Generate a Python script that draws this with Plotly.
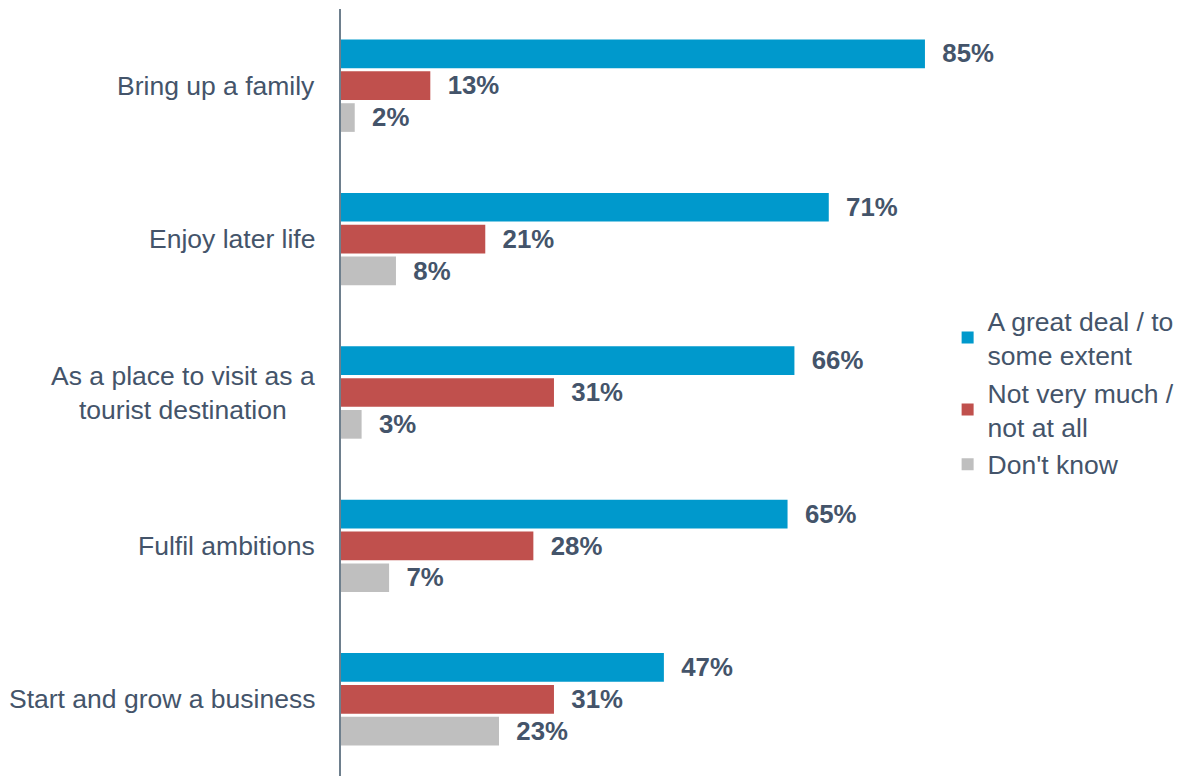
import plotly.graph_objects as go

categories = [
    "Bring up a family",
    "Enjoy later life",
    "As a place to visit as a<br>tourist destination",
    "Fulfil ambitions",
    "Start and grow a business",
]
great_deal = [85, 71, 66, 65, 47]
not_much = [13, 21, 31, 28, 31]
dont_know = [2, 8, 3, 7, 23]

series_names = ["A great deal / to<br>some extent", "Not very much /<br>not at all", "Don't know"]
series_colors = ["#0099CC", "#C0504D", "#BFBFBF"]
text_color = "#44546A"
font_family = "Liberation Sans, Arial, sans-serif"

fig = go.Figure()
for name, vals, col in zip(series_names, [great_deal, not_much, dont_know], series_colors):
    fig.add_trace(go.Bar(
        y=categories,
        x=vals,
        orientation="h",
        name=name,
        marker=dict(color=col, line=dict(width=0)),
        text=[f"\u00a0\u00a0{v}%" for v in vals],
        textposition="outside",
        textfont=dict(size=27, color=text_color, family=font_family, weight="bold"),
        cliponaxis=False,
    ))

# category labels, centred lines
for cat in categories:
    fig.add_annotation(
        x=-0.035, xref="paper", xanchor="right",
        y=cat, yref="y", yanchor="middle",
        text=cat, align="center", showarrow=False,
        font=dict(size=26.5, color=text_color, family=font_family),
    )

fig.update_layout(
    width=1187,
    height=776,
    barmode="group",
    bargap=0.377,
    bargroupgap=0.1,
    plot_bgcolor="white",
    paper_bgcolor="white",
    margin=dict(l=333, r=167, t=1, b=8),
    font=dict(family=font_family, color=text_color, size=26),
    showlegend=True,
    legend=dict(
        x=0.883, y=0.625, xanchor="left", yanchor="top",
        font=dict(size=26.5, color=text_color, family=font_family),
        traceorder="normal",
        itemwidth=30,
        tracegroupgap=4,
    ),
    xaxis=dict(range=[0, 100], showgrid=False, zeroline=False, showticklabels=False, showline=False),
    yaxis=dict(
        autorange="reversed",
        showticklabels=False,
        showgrid=False,
        zeroline=False,
        showline=True,
        linecolor="#6E7F8D",
        linewidth=2,
    ),
)

fig.write_html("out.html")
